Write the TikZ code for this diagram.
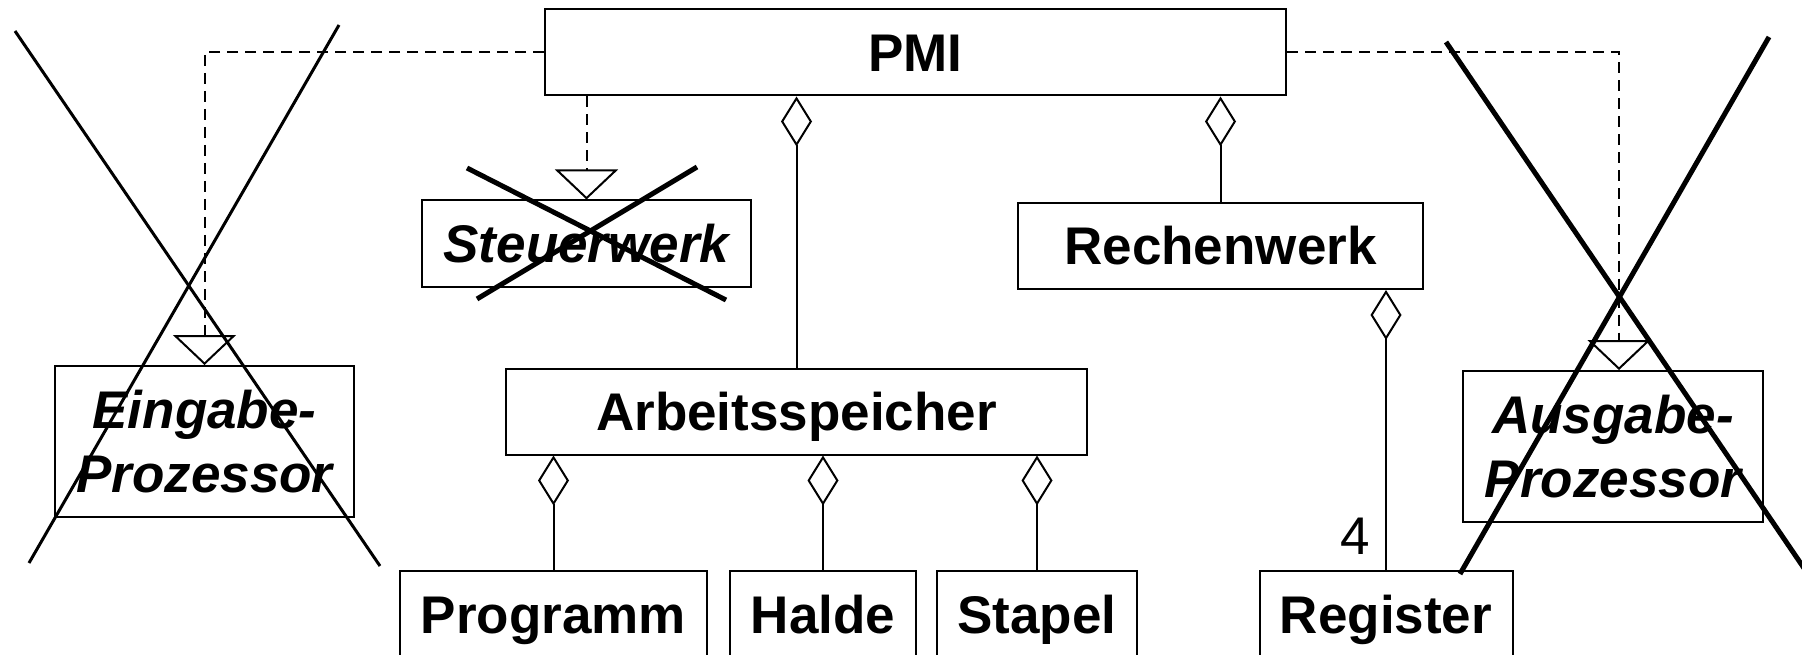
\documentclass[tikz,border=0pt]{standalone}
\usepackage{fontspec}
\setmainfont{Liberation Sans}
\usetikzlibrary{arrows.meta}
\begin{document}
\begin{tikzpicture}[x=1pt,y=-1pt,
  box/.style={draw, line width=2pt, inner sep=0pt, minimum height=86pt,
    text height=38pt, text depth=0pt, font=\fontsize{53}{64}\selectfont\bfseries},
  abox/.style={box, font=\fontsize{53}{64}\selectfont\bfseries\itshape},
  tbox/.style={abox, minimum height=151pt, text depth=64pt},
  agg/.style={line width=2pt, {Diamond[open, width=31pt, length=50pt, line width=2pt]}-},
  real/.style={line width=2pt, dash pattern=on 11pt off 7pt,
    -{Triangle[open, width=63pt, length=30pt, line width=2pt]}},
  strike/.style={line width=#1},
  lbl/.style={font=\fontsize{53}{64}\selectfont, inner sep=0pt, anchor=base}
]
\useasboundingbox (0,0) rectangle (1802,655);
\clip (0,0) rectangle (1802,655);
\fill[white] (0,0) rectangle (1802,655);

% classes
\node[box, minimum width=741pt] (pmi) at (915.5,52.5) {PMI};
\node[abox, minimum width=329pt] (st) at (586.5,243.5) {Steuerwerk};
\node[box, minimum width=405pt] (rw) at (1220.5,246) {Rechenwerk};
\node[box, minimum width=581pt] (arb) at (796.5,411.5) {Arbeitsspeicher};
\node[tbox, minimum width=299pt] (ein) at (204.5,441.5)
  {\begin{tabular}[t]{@{}c@{}}Eingabe-\\Prozessor\end{tabular}};
\node[tbox, minimum width=300pt] (aus) at (1613,446.5)
  {\begin{tabular}[t]{@{}c@{}}Ausgabe-\\Prozessor\end{tabular}};
\node[box, minimum width=307pt] (prog) at (553.5,614) {Programm};
\node[box, minimum width=186pt] (halde) at (823,614) {Halde};
\node[box, minimum width=200pt] (stapel) at (1037,614) {Stapel};
\node[box, minimum width=253pt] (reg) at (1386,614) {Register};

% realizations
\draw[real] (pmi.west) -| (ein.north);
\draw[real] (pmi.south -| st.north) -- (st.north);
\draw[real] (pmi.east) -| ([xshift=6pt]aus.north);

% aggregations
\draw[agg] (pmi.south -| arb.north) -- (arb.north);
\draw[agg] (pmi.south -| rw.north) -- (rw.north);
\draw[agg] (rw.south -| reg.north) -- (reg.north);
\draw[agg] (arb.south -| prog.north) -- (prog.north);
\draw[agg] (arb.south -| halde.north) -- (halde.north);
\draw[agg] (arb.south -| stapel.north) -- (stapel.north);
\node[lbl] (mult) at ([xshift=-30.5pt, yshift=16pt]reg.north) {4};

% strike-outs
\draw[strike=3pt] (15,31) -- (380,566);
\draw[strike=3pt] (339,25) -- (29,563);
\draw[strike=5pt] (467,168) -- (726,300);
\draw[strike=5pt] (697,167) -- (477,299);
\draw[strike=5pt] (1446,42) -- (1810,577);
\draw[strike=5pt] (1769,37) -- (1460,574);
\end{tikzpicture}
\end{document}
